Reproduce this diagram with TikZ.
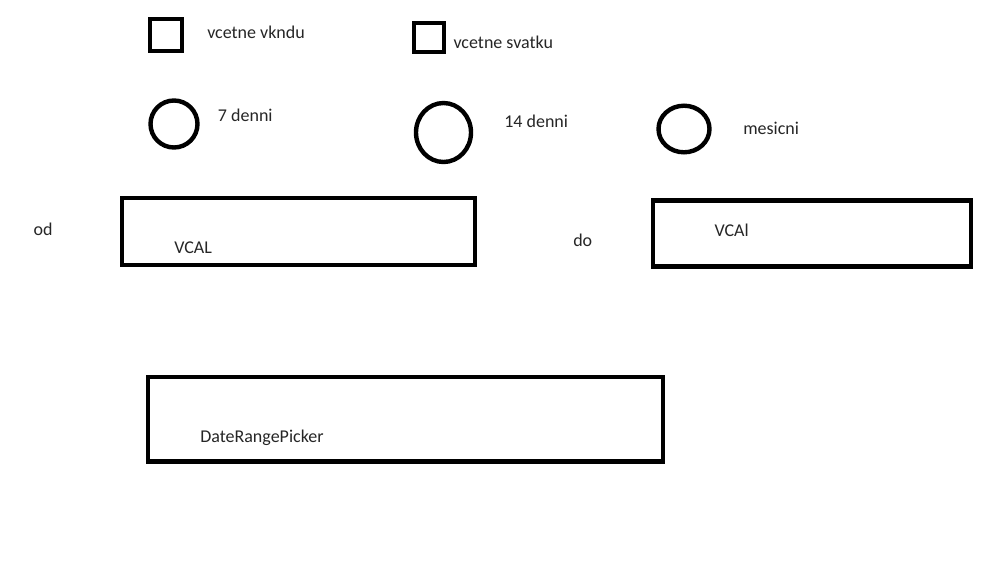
\documentclass[tikz,border=0pt]{standalone}
\usepackage{fontspec}
\setmainfont{Carlito}
\begin{document}
\begin{tikzpicture}[x=0.75pt,y=-0.75pt,
  shp/.style={draw=black,line width=3.3pt},
  lbl/.style={anchor=base west,inner sep=0pt,font=\fontsize{13.5pt}{16pt}\selectfont,text=black!85}]
\useasboundingbox[fill=white] (0,0) rectangle (1002,583);
% checkboxes
\draw[shp] (150,19) rectangle (182,51) coordinate (cb1);
\draw[shp] (414,23) rectangle (444,52) coordinate (cb2);
\node[lbl] (t1) at (207,38.3) {vcetne vkndu};
\node[lbl] (t2) at (453.3,48.3) {vcetne svatku};
% radios
\draw[shp] (174,124) ellipse [x radius=23.5,y radius=23.5];
\draw[shp] (443.5,132.5) ellipse [x radius=27.5,y radius=29.5];
\draw[shp] (684,129) ellipse [x radius=25.5,y radius=23.3];
\node[lbl] (t3) at (217.7,121) {7 denni};
\node[lbl] (t4) at (504,127.3) {14 denni};
\node[lbl] (t5) at (743,134.3) {mesicni};
% date fields
\node[lbl] (od) at (33.3,235) {od};
\draw[shp] (122,198) rectangle (475,264.7);
\node[lbl] (v1) at (174,253.3) {VCAL};
\node[lbl] (do) at (573,246.7) {do};
\draw[shp] (653,200.3) rectangle (971,266.3);
\node[lbl] (v2) at (714.3,236) {VCAl};
% range picker
\draw[shp] (148,377) rectangle (663,461.3);
\node[lbl] (drp) at (200,442.3) {DateRangePicker};
\end{tikzpicture}
\end{document}
